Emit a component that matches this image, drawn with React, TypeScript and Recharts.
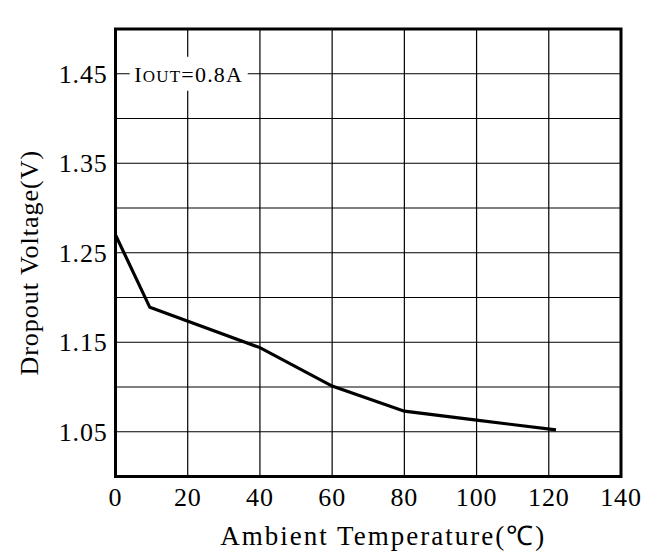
import React from 'react';
import { LineChart, Line, XAxis, YAxis, CartesianGrid, ReferenceArea, ReferenceDot, Label } from 'recharts';

const temperatures = [0, 9.5, 40, 60, 80, 100, 122];
const dropoutVoltages = [1.27, 1.189, 1.144, 1.101, 1.073, 1.063, 1.052];
const xTicks = [0, 20, 40, 60, 80, 100, 120, 140];
const yGridTicks = [1.0, 1.05, 1.1, 1.15, 1.2, 1.25, 1.3, 1.35, 1.4, 1.45, 1.5];
const yLabelTicks = [1.05, 1.15, 1.25, 1.35, 1.45];

const data = temperatures.map((t, i) => ({ t, v: dropoutVoltages[i] }));

const FONT = '"Liberation Serif", "Times New Roman", serif';

const IoutShape = (props: any) => {
  const { cx, cy } = props;
  return (
    <g>
      <rect x={cx - 58} y={cy - 17} width={118} height={34} fill="#fff" />
      <text x={cx + 1} y={cy + 8} textAnchor="middle" fontFamily={FONT} fontSize={22} fill="#000" letterSpacing={1.2}>
        <tspan>I</tspan>
        <tspan fontSize={17}>OUT</tspan>
        <tspan>=0.8A</tspan>
      </text>
    </g>
  );
};

const YTitle = (props: any) => {
  const vb = props.viewBox;
  const cx = vb.x + 21;
  const cy = vb.y + vb.height / 2 + 10;
  return (
    <text
      x={cx}
      y={cy}
      transform={`rotate(-90, ${cx}, ${cy})`}
      textAnchor="middle"
      dominantBaseline="central"
      fontFamily={FONT}
      fontSize={26}
      letterSpacing={1}
      fill="#000"
    >
      Dropout Voltage(V)
    </text>
  );
};

const XTitle = (props: any) => {
  const vb = props.viewBox;
  return (
    <text
      x={vb.x + vb.width / 2 + 15}
      y={vb.y + vb.height - 7}
      textAnchor="middle"
      fontFamily={FONT}
      fontSize={27}
      letterSpacing={2}
      fill="#000"
    >
      Ambient Temperature(℃)
    </text>
  );
};

export default function App() {
  return (
    <LineChart
      width={657}
      height={544}
      data={data}
      margin={{ top: 21, right: 44, left: 0, bottom: 0 }}
    >
      <CartesianGrid stroke="#000" strokeWidth={1.2} />
      <XAxis
        dataKey="t"
        type="number"
        domain={[0, 140]}
        ticks={xTicks}
        interval={0}
        height={75.5}
        axisLine={false}
        tickLine={false}
        tickMargin={5}
        tick={{ fill: '#000', fontSize: 26, fontFamily: FONT, letterSpacing: 0.8 }}
      >
        <Label content={<XTitle />} />
      </XAxis>
      <YAxis
        type="number"
        domain={[1.0, 1.5]}
        ticks={yGridTicks}
        interval={0}
        width={107.5}
        axisLine={false}
        tickLine={false}
        tickMargin={2}
        tickFormatter={(v: number) => (yLabelTicks.some((l) => Math.abs(l - v) < 1e-6) ? v.toFixed(2) : '')}
        tick={{ fill: '#000', fontSize: 26, fontFamily: FONT, letterSpacing: 0.8 }}
      >
        <Label content={<YTitle />} />
      </YAxis>
      <ReferenceArea x1={0} x2={140} y1={1.0} y2={1.5} fill="none" stroke="#000" strokeWidth={3} />
      <ReferenceDot x={20} y={1.45} shape={<IoutShape />} />
      <Line
        type="linear"
        dataKey="v"
        stroke="#000"
        strokeWidth={3.2}
        dot={false}
        isAnimationActive={false}
      />
    </LineChart>
  );
}
